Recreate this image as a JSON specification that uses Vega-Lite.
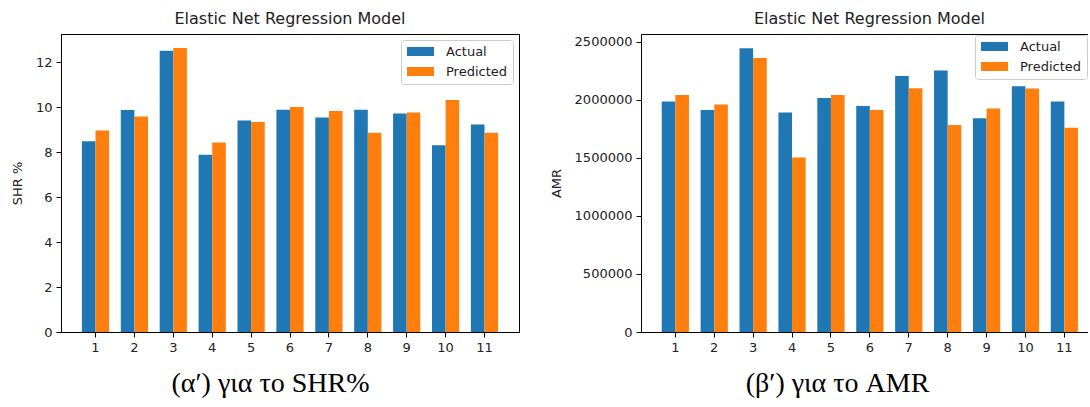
{
  "$schema": "https://vega.github.io/schema/vega-lite/v6.json",
  "padding": {"left": 10, "top": 10, "right": 0, "bottom": 0},
  "background": "white",
  "spacing": 30,
  "datasets": {
    "shr": [
      {"run": 1, "series": "Actual", "value": 8.49}, {"run": 1, "series": "Predicted", "value": 8.97},
      {"run": 2, "series": "Actual", "value": 9.88}, {"run": 2, "series": "Predicted", "value": 9.59},
      {"run": 3, "series": "Actual", "value": 12.51}, {"run": 3, "series": "Predicted", "value": 12.64},
      {"run": 4, "series": "Actual", "value": 7.89}, {"run": 4, "series": "Predicted", "value": 8.43},
      {"run": 5, "series": "Actual", "value": 9.41}, {"run": 5, "series": "Predicted", "value": 9.34},
      {"run": 6, "series": "Actual", "value": 9.89}, {"run": 6, "series": "Predicted", "value": 10.01},
      {"run": 7, "series": "Actual", "value": 9.54}, {"run": 7, "series": "Predicted", "value": 9.83},
      {"run": 8, "series": "Actual", "value": 9.89}, {"run": 8, "series": "Predicted", "value": 8.87},
      {"run": 9, "series": "Actual", "value": 9.72}, {"run": 9, "series": "Predicted", "value": 9.77},
      {"run": 10, "series": "Actual", "value": 8.31}, {"run": 10, "series": "Predicted", "value": 10.32},
      {"run": 11, "series": "Actual", "value": 9.23}, {"run": 11, "series": "Predicted", "value": 8.87}
    ],
    "amr": [
      {"run": 1, "series": "Actual", "value": 1986000}, {"run": 1, "series": "Predicted", "value": 2043000},
      {"run": 2, "series": "Actual", "value": 1913000}, {"run": 2, "series": "Predicted", "value": 1960000},
      {"run": 3, "series": "Actual", "value": 2446000}, {"run": 3, "series": "Predicted", "value": 2361000},
      {"run": 4, "series": "Actual", "value": 1891000}, {"run": 4, "series": "Predicted", "value": 1503000},
      {"run": 5, "series": "Actual", "value": 2017000}, {"run": 5, "series": "Predicted", "value": 2043000},
      {"run": 6, "series": "Actual", "value": 1948000}, {"run": 6, "series": "Predicted", "value": 1913000},
      {"run": 7, "series": "Actual", "value": 2207000}, {"run": 7, "series": "Predicted", "value": 2101000},
      {"run": 8, "series": "Actual", "value": 2253000}, {"run": 8, "series": "Predicted", "value": 1784000},
      {"run": 9, "series": "Actual", "value": 1842000}, {"run": 9, "series": "Predicted", "value": 1925000},
      {"run": 10, "series": "Actual", "value": 2118000}, {"run": 10, "series": "Predicted", "value": 2099000},
      {"run": 11, "series": "Actual", "value": 1986000}, {"run": 11, "series": "Predicted", "value": 1761000}
    ]
  },
  "config": {
    "font": "DejaVu Sans",
    "view": {"stroke": "#000", "strokeWidth": 1},
    "axis": {
      "domainColor": "#000", "domainWidth": 1, "tickColor": "#000", "tickWidth": 1, "tickSize": 5,
      "labelColor": "#222", "labelFontSize": 13, "labelFont": "DejaVu Sans", "labelPadding": 4,
      "grid": false, "titleFont": "DejaVu Sans", "titleFontSize": 13, "titleFontWeight": "normal", "titleColor": "#222"
    },
    "title": {"font": "DejaVu Sans", "fontSize": 16, "fontWeight": "normal", "color": "#222", "baseline": "alphabetic", "offset": 7.5, "anchor": "middle"},
    "legend": {
      "padding": 5, "fillColor": "rgba(255,255,255,0.8)", "strokeColor": "#cccccc", "cornerRadius": 3,
      "symbolType": "M-1,-0.818H3.909V0.818H-1Z", "symbolSize": 121, "symbolStrokeWidth": 0, "symbolOpacity": 1,
      "labelFontSize": 13, "labelFont": "DejaVu Sans", "labelColor": "#222", "labelOffset": 27, "rowPadding": 6
    }
  },
  "resolve": {"legend": {"color": "independent"}},
  "hconcat": [
    {
      "width": 458,
      "height": 298,
      "title": "Elastic Net Regression Model",
      "data": {"name": "shr"},
      "mark": {"type": "bar"},
      "encoding": {
        "x": {
          "field": "run", "type": "ordinal",
          "scale": {"paddingInner": 0.3, "paddingOuter": 0.537},
          "axis": {"labelAngle": 0, "title": "(α′) για το SHR%", "titleFont": "Liberation Serif", "titleFontSize": 28, "titleColor": "#000", "titlePadding": 15, "titleX": 209, "titleAlign": "center"}
        },
        "xOffset": {"field": "series", "type": "nominal", "sort": ["Actual", "Predicted"], "scale": {"paddingInner": 0, "paddingOuter": 0}},
        "y": {
          "field": "value", "type": "quantitative",
          "scale": {"domain": [0, 13.26], "nice": false},
          "axis": {"values": [0, 2, 4, 6, 8, 10, 12], "title": "SHR %", "titlePadding": 11}
        },
        "color": {
          "field": "series", "type": "nominal",
          "scale": {"domain": ["Actual", "Predicted"], "range": ["#1f77b4", "#ff7f0e"]},
          "legend": {"orient": "top-right", "offset": 6, "title": null}
        }
      }
    },
    {
      "width": 447,
      "height": 298,
      "title": {"text": "Elastic Net Regression Model", "dx": 5},
      "data": {"name": "amr"},
      "view": {"stroke": null},
      "layer": [
        {
          "mark": {"type": "bar"},
          "encoding": {
            "x": {
              "field": "run", "type": "ordinal",
              "scale": {"paddingInner": 0.3, "paddingOuter": 0.395, "align": 0.674},
              "axis": {"labelAngle": 0, "title": "(β′) για το AMR", "titleFont": "Liberation Serif", "titleFontSize": 28, "titleColor": "#000", "titlePadding": 15, "titleX": 196, "titleAlign": "center"}
            },
            "xOffset": {"field": "series", "type": "nominal", "sort": ["Actual", "Predicted"], "scale": {"paddingInner": 0, "paddingOuter": 0}},
            "y": {
              "field": "value", "type": "quantitative",
              "scale": {"domain": [0, 2568000], "nice": false},
              "axis": {"values": [0, 500000, 1000000, 1500000, 2000000, 2500000], "format": "d", "title": "AMR", "titlePadding": 11}
            },
            "color": {
              "field": "series", "type": "nominal",
              "scale": {"domain": ["Actual", "Predicted"], "range": ["#1f77b4", "#ff7f0e"]},
              "legend": {"orient": "top-right", "offset": 1, "title": null}
            }
          }
        },
        {
          "mark": {"type": "bar", "opacity": 0},
          "encoding": {
            "x": {
              "field": "run", "type": "ordinal",
              "axis": {"orient": "top", "labels": false, "ticks": false, "title": null, "domain": true}
            }
          }
        }
      ],
      "resolve": {"axis": {"x": "independent"}}
    }
  ]
}
